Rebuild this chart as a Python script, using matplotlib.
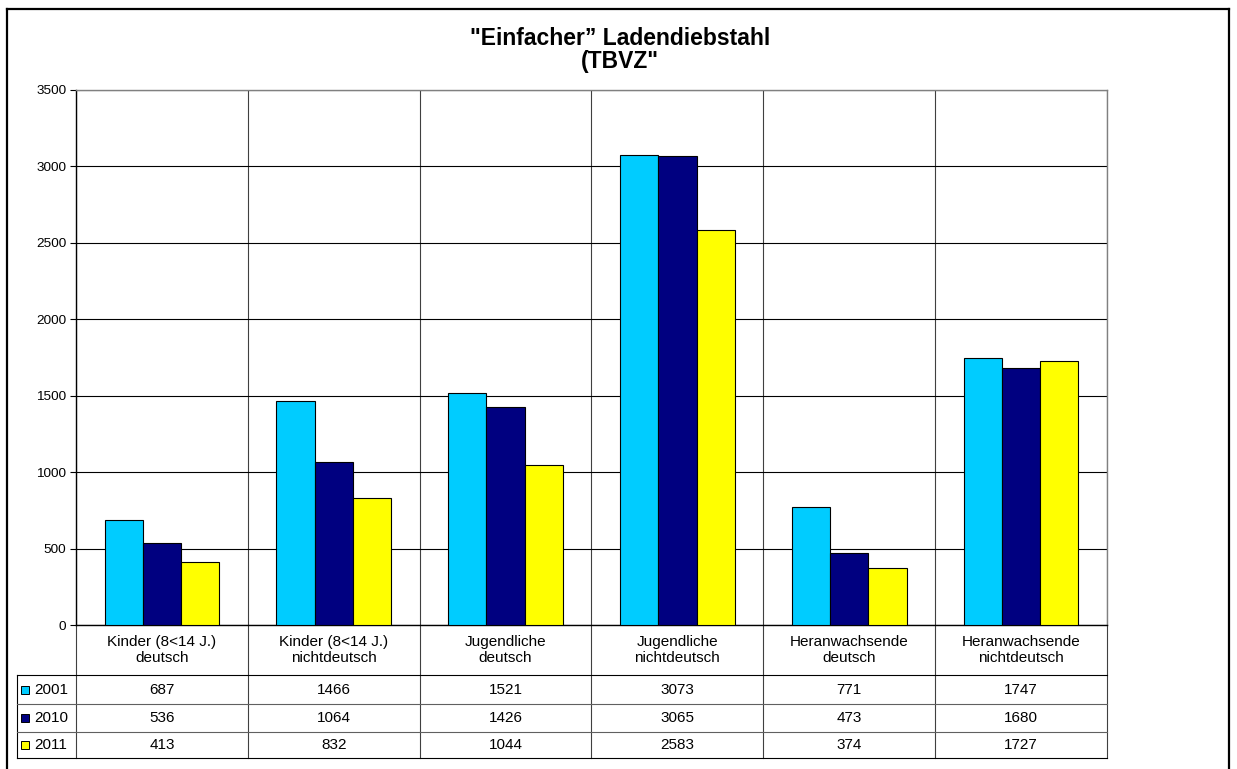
import matplotlib.pyplot as plt
from matplotlib.lines import Line2D
from matplotlib.patches import Rectangle

plt.rcParams['font.family'] = ['Liberation Sans', 'DejaVu Sans']

# Daten
kategorien = ["Kinder (8<14 J.)\ndeutsch", "Kinder (8<14 J.)\nnichtdeutsch",
              "Jugendliche\ndeutsch", "Jugendliche\nnichtdeutsch",
              "Heranwachsende\ndeutsch", "Heranwachsende\nnichtdeutsch"]
jahre = ["2001", "2010", "2011"]
werte_2001 = [687, 1466, 1521, 3073, 771, 1747]
werte_2010 = [536, 1064, 1426, 3065, 473, 1680]
werte_2011 = [413, 832, 1044, 2583, 374, 1727]
farben = ["#00CCFF", "#000080", "#FFFF00"]
titel = '"Einfacher\u201d Ladendiebstahl\n(TBVZ"'

W, H = 1237, 769
fig = plt.figure(figsize=(W / 100, H / 100), dpi=100)
ax = fig.add_axes([76 / W, 1 - 625 / H, (1107 - 76) / W, (625 - 90) / H])

serien = [werte_2001, werte_2010, werte_2011]
n = len(kategorien)
bw = 1 / 4.5
for i, (werte, farbe) in enumerate(zip(serien, farben)):
    xs = [k + (i - 1) * bw for k in range(n)]
    ax.bar(xs, werte, width=bw, color=farbe, edgecolor="black", linewidth=0.8, zorder=3)

ax.set_xlim(-0.5, n - 0.5)
ax.set_ylim(0, 3500)
ax.set_yticks(range(0, 3501, 500))
ax.tick_params(axis="y", direction="out", length=4, width=0.8, labelsize=9.7, pad=3)
ax.tick_params(axis="x", length=0, labelbottom=False)
ax.yaxis.grid(True, color="black", linewidth=0.8, zorder=0)
for k in range(n + 1):
    ax.axvline(k - 0.5, color="#404040", linewidth=0.8, zorder=1)
ax.spines["left"].set_color("black")
ax.spines["bottom"].set_color("black")
ax.spines["top"].set_color("#808080")
ax.spines["right"].set_color("#808080")
for s in ax.spines.values():
    s.set_linewidth(1.0)

# Datentabelle unter dem Diagramm
tr = ax.get_xaxis_transform()
y_kopf = -50 / 535
zeilen_y = [y_kopf, -79 / 535, -107 / 535, -133 / 535]
x_links = -0.5 - 59 / 171.8
lw_t = 0.8

for k in range(n + 1):
    ax.plot([k - 0.5, k - 0.5], [0, zeilen_y[-1]], color="#404040", lw=lw_t,
            transform=tr, clip_on=False)
ax.plot([x_links, x_links], [zeilen_y[0], zeilen_y[-1]], color="black", lw=lw_t,
        transform=tr, clip_on=False)
for j, yy in enumerate(zeilen_y):
    farbe_l = "black" if j in (0, len(zeilen_y) - 1) else "#606060"
    ax.plot([x_links, n - 0.5], [yy, yy], color=farbe_l, lw=lw_t,
            transform=tr, clip_on=False)

for k, lab in enumerate(kategorien):
    ax.text(k, y_kopf / 2, lab, transform=tr, ha="center", va="center",
            fontsize=11, linespacing=1.25)

qw, qh = 8 / 171.8, 8 / 535
for j, (jahr, werte, farbe) in enumerate(zip(jahre, serien, farben)):
    ym = (zeilen_y[j] + zeilen_y[j + 1]) / 2
    for k, v in enumerate(werte):
        ax.text(k, ym, str(v), transform=tr, ha="center", va="center", fontsize=11)
    ax.add_patch(Rectangle((x_links + 4 / 171.8, ym - qh / 2), qw, qh,
                           facecolor=farbe, edgecolor="black", lw=0.7,
                           transform=tr, clip_on=False))
    ax.text(x_links + 17 / 171.8, ym, jahr, transform=tr, ha="left", va="center",
            fontsize=11)

# Titel
fig.text(620 / W, 1 - 50 / H, titel, ha="center", va="center", fontsize=16.5,
         fontweight="bold", linespacing=1.0)

# Rahmen
for (x0, y0, x1, y1) in [(7, 9, 1229, 9), (7, 9, 7, 775), (1229, 9, 1229, 775)]:
    fig.add_artist(Line2D([x0 / W, x1 / W], [1 - y0 / H, 1 - y1 / H],
                          color="black", lw=1.6, transform=fig.transFigure))

fig.savefig("out.png", dpi=100)
